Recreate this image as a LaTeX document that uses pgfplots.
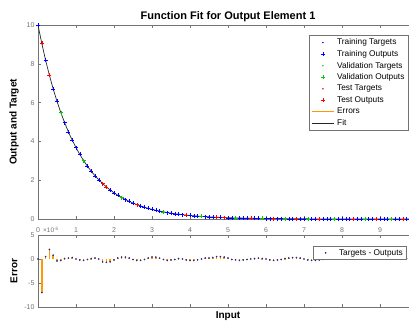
\documentclass[border=0pt]{standalone}
\usepackage{pgfplots}
\pgfplotsset{compat=1.18}
\usepackage{pgfplotstable}
\usepackage{fontspec}
\setmainfont{Liberation Sans}
\definecolor{mtrain}{rgb}{0,0,1}
\definecolor{mval}{rgb}{0,0.8,0}
\definecolor{mtest}{rgb}{1,0,0}
\definecolor{merr}{rgb}{1,0.6,0}
\definecolor{axgray}{gray}{0.45}
\definecolor{mdark}{rgb}{0.15,0.15,0.5}

\pgfplotsset{
  markleg/.style={legend image code/.code={\path (0cm,-1pt) rectangle (0.8cm,1pt); \draw[##1] plot coordinates {(0.4cm,0cm)};}},
  lineleg/.style={legend image code/.code={\draw[##1] (0cm,0cm) -- (0.8cm,0cm);}},
}

\pgfplotstableread{
x y e s
0.0 10.000 0.0 0
0.1 9.048 -7.0 2
0.2 8.187 0.5 0
0.3 7.408 2.0 2
0.4 6.703 0.8 0
0.5 6.065 -0.4 0
0.6 5.488 -0.3 1
0.7 4.966 0.1 0
0.8 4.493 0.2 0
0.9 4.066 0.3 0
1.0 3.679 0.0 0
1.1 3.329 -0.2 0
1.2 3.012 -0.3 1
1.3 2.725 -0.1 0
1.4 2.466 0.1 0
1.5 2.231 0.2 0
1.6 2.019 0.0 0
1.7 1.827 -0.6 2
1.8 1.653 -0.7 2
1.9 1.496 -0.6 0
2.0 1.353 -0.2 0
2.1 1.225 0.2 0
2.2 1.108 0.4 1
2.3 1.003 0.4 0
2.4 0.907 0.2 0
2.5 0.821 -0.1 0
2.6 0.743 -0.3 2
2.7 0.672 -0.3 0
2.8 0.608 -0.1 0
2.9 0.550 0.2 0
3.0 0.498 0.4 0
3.1 0.450 0.4 0
3.2 0.408 0.2 0
3.3 0.369 -0.1 1
3.4 0.334 -0.3 0
3.5 0.302 -0.2 0
3.6 0.273 -0.1 0
3.7 0.247 0.1 0
3.8 0.224 0.0 0
3.9 0.202 -0.2 2
4.0 0.183 -0.3 0
4.1 0.166 -0.3 0
4.2 0.150 -0.2 0
4.3 0.136 0.0 1
4.4 0.123 0.2 0
4.5 0.111 0.2 0
4.6 0.101 0.3 0
4.7 0.091 0.5 2
4.8 0.082 0.5 0
4.9 0.074 0.4 2
5.0 0.067 0.2 0
5.1 0.061 -0.1 0
5.2 0.055 -0.2 1
5.3 0.050 -0.3 0
5.4 0.045 -0.2 0
5.5 0.041 -0.1 0
5.6 0.037 0.0 2
5.7 0.033 0.1 0
5.8 0.030 0.2 0
5.9 0.027 0.1 1
6.0 0.025 0.0 0
6.1 0.022 -0.2 0
6.2 0.020 -0.3 2
6.3 0.018 -0.2 0
6.4 0.017 -0.1 0
6.5 0.015 0.1 1
6.6 0.014 0.2 0
6.7 0.012 0.3 0
6.8 0.011 0.3 2
6.9 0.010 0.2 0
7.0 0.009 0.0 0
7.1 0.008 -0.2 1
7.2 0.007 -0.3 0
7.3 0.007 -0.3 0
7.4 0.006 -0.2 2
7.5 0.006 -0.1 0
7.6 0.005 0.0 0
7.7 0.005 0.1 0
7.8 0.004 0.2 1
7.9 0.004 0.2 0
8.0 0.003 0.2 0
8.1 0.003 0.2 0
8.2 0.003 0.2 0
8.3 0.002 0.2 2
8.4 0.002 0.2 0
8.5 0.002 0.2 0
8.6 0.002 0.2 1
8.7 0.002 0.2 0
8.8 0.002 0.2 0
8.9 0.001 0.2 2
9.0 0.001 0.2 0
9.1 0.001 0.2 0
9.2 0.001 0.1 0
9.3 0.001 0.1 1
9.4 0.001 0.1 0
9.5 0.001 0.1 0
9.6 0.001 0.1 2
9.7 0.001 0.1 0
9.8 0.001 0.1 0
9.9 0.001 0.1 1
10.0 0.000 0.1 0
}\datatab

\pgfplotsset{mstyle/.style={
  scale only axis, width=380pt,
  xmin=0, xmax=10, xtick={0,...,10},
  axis line style={axgray}, tick style={axgray, line width=0.4pt},
  major tick length=3pt, tick align=inside,
  tick label style={font=\fontsize{7}{8}\selectfont, text=axgray},
  /pgf/number format/assume math mode=true,
  label style={font=\bfseries\fontsize{10}{11}\selectfont},
  ylabel style={at={(axis description cs:-0.063,0.5)}, anchor=center},
  clip=false,
}}

\begin{document}
\begin{tikzpicture}
\useasboundingbox (0,0) rectangle (409pt,322pt);
\clip (0,0) rectangle (409pt,322pt);
\begin{axis}[mstyle, at={(38pt,103pt)}, anchor=south west, height=194pt,
  ymin=0, ymax=10, ytick={0,2,...,10},
  xticklabels={0,1,2,3,4,5,6,7,8,9,{}},
  xticklabel style={yshift=-5pt},
  title={Function Fit for Output Element 1},
  title style={font=\bfseries\fontsize{11}{12}\selectfont, at={(axis description cs:0.5,1)}, anchor=center, yshift=2pt},
  ylabel={Output and Target},
  legend style={at={(rel axis cs:0.713,0.948)}, anchor=north west, draw=axgray,
    font=\fontsize{8.3}{9}\selectfont, cells={anchor=west}, row sep=0.1pt, inner sep=1.5pt},
]
\addlegendimage{color=mtrain, draw=none, mark=*, mark size=0.5pt, markleg}
\addlegendentry{Training Targets}
\addlegendimage{color=mtrain, draw=none, mark=+, mark size=2pt, markleg}
\addlegendentry{Training Outputs}
\addlegendimage{color=mval, draw=none, mark=*, mark size=0.5pt, markleg}
\addlegendentry{Validation Targets}
\addlegendimage{color=mval, draw=none, mark=+, mark size=2pt, markleg}
\addlegendentry{Validation Outputs}
\addlegendimage{color=mtest, draw=none, mark=*, mark size=0.5pt, markleg}
\addlegendentry{Test Targets}
\addlegendimage{color=mtest, draw=none, mark=+, mark size=2pt, markleg}
\addlegendentry{Test Outputs}
\addlegendimage{draw=merr, line width=1.8pt, lineleg}
\addlegendentry{Errors}
\addlegendimage{draw=black!85, line width=0.7pt, lineleg}
\addlegendentry{Fit}

\addplot[black!85, line width=0.7pt, forget plot] table[x=x,y=y] {\datatab};
\addplot[only marks, mark=+, mark size=2pt, color=mtrain, restrict expr to domain={\thisrow{s}}{-0.5:0.5}, forget plot] table[x=x,y=y] {\datatab};
\addplot[only marks, mark=+, mark size=2pt, color=mval, restrict expr to domain={\thisrow{s}}{0.5:1.5}, forget plot] table[x=x,y=y] {\datatab};
\addplot[only marks, mark=+, mark size=2pt, color=mtest, restrict expr to domain={\thisrow{s}}{1.5:2.5}, forget plot] table[x=x,y=y] {\datatab};
\end{axis}

\begin{axis}[mstyle, at={(38pt,15pt)}, anchor=south west, height=72pt,
  ymin=-10, ymax=5, ytick={-10,-5,0,5}, xticklabels={},
  xlabel={Input}, ylabel={Error},
  xlabel style={at={(axis description cs:0.5,0)}, anchor=center, yshift=-9pt},
  legend style={at={(rel axis cs:0.724,0.847)}, anchor=north west, draw=axgray,
    font=\fontsize{8.3}{9}\selectfont, cells={anchor=west}, inner sep=1pt},
]
\addlegendimage{color=mdark, draw=none, mark=*, mark size=0.6pt, markleg}
\addlegendentry{Targets - Outputs}
\addplot[ycomb, draw=merr, mark=none, line width=1.5pt, forget plot] table[x=x,y=e] {\datatab};
\addplot[only marks, mark=*, mark size=0.6pt, color=mdark, forget plot] table[x=x,y=e] {\datatab};
\node[anchor=south west, font=\fontsize{6.5}{7}\selectfont, text=axgray, inner sep=0pt] at ([xshift=5pt,yshift=2pt]rel axis cs:0,1) {×10\textsuperscript{-5}};
\end{axis}
\end{tikzpicture}
\end{document}
